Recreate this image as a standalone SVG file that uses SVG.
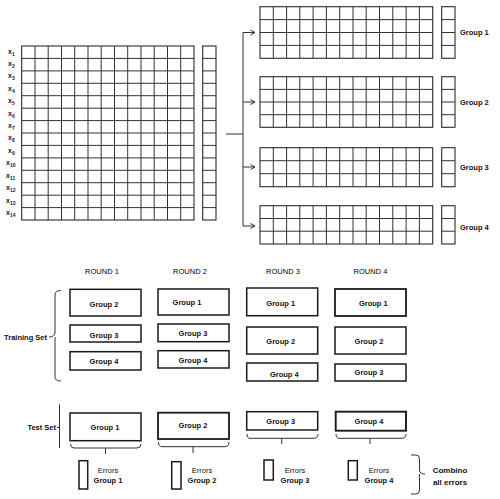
<svg xmlns="http://www.w3.org/2000/svg" width="500" height="499" viewBox="0 0 500 499">
<defs>
<style>
.bg{fill:#fff}
.grid{fill:none;stroke:#333;stroke-width:1}
.frame{fill:#fff;stroke:#2a2a2a;stroke-width:1.1}
.box{fill:#fff;stroke:#1a1a1a;stroke-width:1.5}
.con{fill:none;stroke:#333;stroke-width:1}
.t{font-family:"Liberation Sans",Arial,sans-serif;font-size:7.5px;fill:#111}
.b{font-weight:bold}
.c{text-anchor:middle}
.xl{font-family:"Liberation Sans",Arial,sans-serif;font-size:7px;font-weight:bold;fill:#222}
</style>
<marker id="arr" viewBox="0 0 6 6" refX="5.5" refY="3" markerWidth="6" markerHeight="6" markerUnits="userSpaceOnUse" orient="auto">
<path d="M1,0.5 L5.5,3 L1,5.5" fill="none" stroke="#333" stroke-width="1"/>
</marker>
</defs>
<rect class="bg" x="0" y="0" width="500" height="499"/>

<g id="matrix">
<rect class="frame" x="21.7" y="46" width="172.3" height="174"/>
<path class="grid" d="M35,46V220M48.2,46V220M61.5,46V220M74.7,46V220M88,46V220M101.2,46V220M114.5,46V220M127.7,46V220M141,46V220M154.2,46V220M167.5,46V220M180.7,46V220
M21.7,58.4H194M21.7,70.9H194M21.7,83.3H194M21.7,95.7H194M21.7,108.2H194M21.7,120.6H194M21.7,133H194M21.7,145.4H194M21.7,157.9H194M21.7,170.3H194M21.7,182.7H194M21.7,195.2H194M21.7,207.6H194"/>
<rect class="frame" x="202.7" y="46" width="13.3" height="174"/>
<path class="grid" d="M202.7,58.4H216M202.7,70.9H216M202.7,83.3H216M202.7,95.7H216M202.7,108.2H216M202.7,120.6H216M202.7,133H216M202.7,145.4H216M202.7,157.9H216M202.7,170.3H216M202.7,182.7H216M202.7,195.2H216M202.7,207.6H216"/>
<g class="xl">
<text x="8" y="53.5">x<tspan dy="2" font-size="5">1</tspan></text>
<text x="8" y="65.9">x<tspan dy="2" font-size="5">2</tspan></text>
<text x="8" y="78.3">x<tspan dy="2" font-size="5">3</tspan></text>
<text x="8" y="90.7">x<tspan dy="2" font-size="5">4</tspan></text>
<text x="8" y="103.2">x<tspan dy="2" font-size="5">5</tspan></text>
<text x="8" y="115.6">x<tspan dy="2" font-size="5">6</tspan></text>
<text x="8" y="128">x<tspan dy="2" font-size="5">7</tspan></text>
<text x="8" y="140.4">x<tspan dy="2" font-size="5">8</tspan></text>
<text x="8" y="152.9">x<tspan dy="2" font-size="5">9</tspan></text>
<text x="6" y="165.3">x<tspan dy="2" font-size="5">10</tspan></text>
<text x="6" y="177.7">x<tspan dy="2" font-size="5">11</tspan></text>
<text x="6" y="190.2">x<tspan dy="2" font-size="5">12</tspan></text>
<text x="6" y="202.6">x<tspan dy="2" font-size="5">13</tspan></text>
<text x="6" y="215">x<tspan dy="2" font-size="5">14</tspan></text>
</g>
</g>

<g id="group1-grid">
<rect class="frame" x="260" y="6.7" width="172.7" height="51.6"/>
<path class="grid" d="M273.3,6.7V58.3M286.6,6.7V58.3M299.8,6.7V58.3M313.1,6.7V58.3M326.4,6.7V58.3M339.7,6.7V58.3M353,6.7V58.3M366.2,6.7V58.3M379.5,6.7V58.3M392.8,6.7V58.3M406.1,6.7V58.3M419.4,6.7V58.3M260,19.6H432.7M260,32.5H432.7M260,45.4H432.7"/>
<rect class="frame" x="441.7" y="6.7" width="13.3" height="51.6"/>
<path class="grid" d="M441.7,19.6H455M441.7,32.5H455M441.7,45.4H455"/>
<text class="t b" x="460" y="35.2">Group 1</text>
</g>

<g id="group2-grid">
<rect class="frame" x="260" y="76.7" width="172.7" height="50.6"/>
<path class="grid" d="M273.3,76.7V127.3M286.6,76.7V127.3M299.8,76.7V127.3M313.1,76.7V127.3M326.4,76.7V127.3M339.7,76.7V127.3M353,76.7V127.3M366.2,76.7V127.3M379.5,76.7V127.3M392.8,76.7V127.3M406.1,76.7V127.3M419.4,76.7V127.3M260,89.4H432.7M260,102H432.7M260,114.7H432.7"/>
<rect class="frame" x="441.7" y="76.7" width="13.3" height="50.6"/>
<path class="grid" d="M441.7,89.4H455M441.7,102H455M441.7,114.7H455"/>
<text class="t b" x="460" y="104.7">Group 2</text>
</g>

<g id="group3-grid">
<rect class="frame" x="260" y="147.7" width="172.7" height="39"/>
<path class="grid" d="M273.3,147.7V186.7M286.6,147.7V186.7M299.8,147.7V186.7M313.1,147.7V186.7M326.4,147.7V186.7M339.7,147.7V186.7M353,147.7V186.7M366.2,147.7V186.7M379.5,147.7V186.7M392.8,147.7V186.7M406.1,147.7V186.7M419.4,147.7V186.7M260,160.7H432.7M260,173.7H432.7"/>
<rect class="frame" x="441.7" y="147.7" width="13.3" height="39"/>
<path class="grid" d="M441.7,160.7H455M441.7,173.7H455"/>
<text class="t b" x="460" y="170">Group 3</text>
</g>

<g id="group4-grid">
<rect class="frame" x="260" y="205.7" width="172.7" height="38.3"/>
<path class="grid" d="M273.3,205.7V244M286.6,205.7V244M299.8,205.7V244M313.1,205.7V244M326.4,205.7V244M339.7,205.7V244M353,205.7V244M366.2,205.7V244M379.5,205.7V244M392.8,205.7V244M406.1,205.7V244M419.4,205.7V244M260,218.5H432.7M260,231.2H432.7"/>
<rect class="frame" x="441.7" y="205.7" width="13.3" height="38.3"/>
<path class="grid" d="M441.7,218.5H455M441.7,231.2H455"/>
<text class="t b" x="460" y="229.5">Group 4</text>
</g>

<g id="round-titles" class="t c" style="fill:#000">
<text x="102" y="274.3">ROUND 1</text>
<text x="190" y="274.3">ROUND 2</text>
<text x="283" y="274.3">ROUND 3</text>
<text x="370.5" y="274.3">ROUND 4</text>
</g>

<g id="set-labels" class="t b">
<text x="47" y="339.7" text-anchor="end">Training Set</text>
<text x="56" y="429.7" text-anchor="end">Test Set</text>
</g>

<g id="r1-train-g2"><rect class="box" x="70" y="289.3" width="71" height="26.7"/><text class="t b c" x="104" y="307">Group 2</text></g>
<g id="r1-train-g3"><rect class="box" x="70" y="325" width="71" height="17"/><text class="t b c" x="104" y="337.7">Group 3</text></g>
<g id="r1-train-g4"><rect class="box" x="70" y="351.7" width="71" height="18.3"/><text class="t b c" x="104" y="363.7">Group 4</text></g>
<g id="r1-test"><rect class="box" x="70" y="413" width="71" height="27.7"/><text class="t b c" x="105" y="430">Group 1</text></g>

<g id="r2-train-g1"><rect class="box" x="158" y="289" width="71" height="26"/><text class="t b c" x="187" y="305.4">Group 1</text></g>
<g id="r2-train-g3"><rect class="box" x="158" y="324" width="71" height="17.7"/><text class="t b c" x="193" y="336">Group 3</text></g>
<g id="r2-train-g4"><rect class="box" x="158" y="350.7" width="71" height="17.3"/><text class="t b c" x="193" y="362.7">Group 4</text></g>
<g id="r2-test"><rect class="box" x="158" y="412.7" width="71" height="26.3" style="stroke-width:1.8"/><text class="t b c" x="193" y="428.4">Group 2</text></g>

<g id="r3-train-g1"><rect class="box" x="246.7" y="288" width="71" height="27.7"/><text class="t b c" x="280.7" y="306">Group 1</text></g>
<g id="r3-train-g2"><rect class="box" x="246.7" y="327" width="71" height="27"/><text class="t b c" x="280.7" y="344.4">Group 2</text></g>
<g id="r3-train-g4"><rect class="box" x="246.7" y="363" width="71" height="18"/><text class="t b c" x="284.3" y="376.7">Group 4</text></g>
<g id="r3-test"><rect class="box" x="246.7" y="411.7" width="71" height="18.3"/><text class="t b c" x="280.7" y="423.7">Group 3</text></g>

<g id="r4-train-g1"><rect class="box" x="335" y="289" width="71" height="27" style="stroke-width:1.8"/><text class="t b c" x="373.3" y="306">Group 1</text></g>
<g id="r4-train-g2"><rect class="box" x="335" y="327" width="71" height="27"/><text class="t b c" x="369" y="344.4">Group 2</text></g>
<g id="r4-train-g3"><rect class="box" x="335" y="364" width="71" height="17"/><text class="t b c" x="369" y="375">Group 3</text></g>
<g id="r4-test"><rect class="box" x="335.7" y="411.7" width="70.3" height="19" style="stroke-width:1.9"/><text class="t b c" x="369" y="423.7">Group 4</text></g>

<g id="err1"><rect class="box" x="79" y="460.7" width="8.7" height="28.3"/><text class="t c" x="108" y="472.7">Errors</text><text class="t b c" x="108" y="483.4">Group 1</text></g>
<g id="err2"><rect class="box" x="171.7" y="461.7" width="9.3" height="27.3"/><text class="t c" x="202" y="472.7">Errors</text><text class="t b c" x="202" y="483.4">Group 2</text></g>
<g id="err3"><rect class="box" x="264" y="460" width="9.3" height="20"/><text class="t c" x="295" y="472.7">Errors</text><text class="t b c" x="295" y="483.4">Group 3</text></g>
<g id="err4"><rect class="box" x="348.3" y="460.7" width="9" height="19.3"/><text class="t c" x="379" y="472.7">Errors</text><text class="t b c" x="379" y="483.4">Group 4</text></g>

<g id="combine"><text class="t b c" x="450" y="472.9" style="font-size:8px">Combino</text><text class="t b c" x="450" y="484.6" style="font-size:8px">all errors</text></g>

<g id="connectors">
<path class="con" d="M226,134H243M243,32.5V226"/>
<path class="con" marker-end="url(#arr)" d="M243,32.5H255"/>
<path class="con" marker-end="url(#arr)" d="M243,102H255"/>
<path class="con" marker-end="url(#arr)" d="M243,167H255"/>
<path class="con" marker-end="url(#arr)" d="M243,226H255"/>
<path class="con" d="M61,290.5Q55,290.5 55,295V332Q55,337 49,337M55,337Q55,342 55,346V377Q55,381 61,381"/>
<path class="con" d="M59.5,404.5V448M57,427.5H59.5"/>
<path class="con" d="M70.5,444Q70.5,448 74,448H137Q141,448 141,444M105.5,448V454"/>
<path class="con" d="M158.5,442Q158.5,446.7 162,446.7H225Q229,446.7 229,442M193,446.7V453"/>
<path class="con" d="M247,434Q247,438.3 250,438.3H314Q318,438.3 318,434M281.7,438.3V444"/>
<path class="con" d="M336,434Q336,438.3 339,438.3H402Q406,438.3 406,434M370,438.3V444"/>
<path class="con" d="M411,455H416Q419.5,455 419.5,459V470Q419.5,474 425,474M419.5,474Q419.5,478 419.5,480V490Q419.5,494 416,494H411"/>
</g>
</svg>
